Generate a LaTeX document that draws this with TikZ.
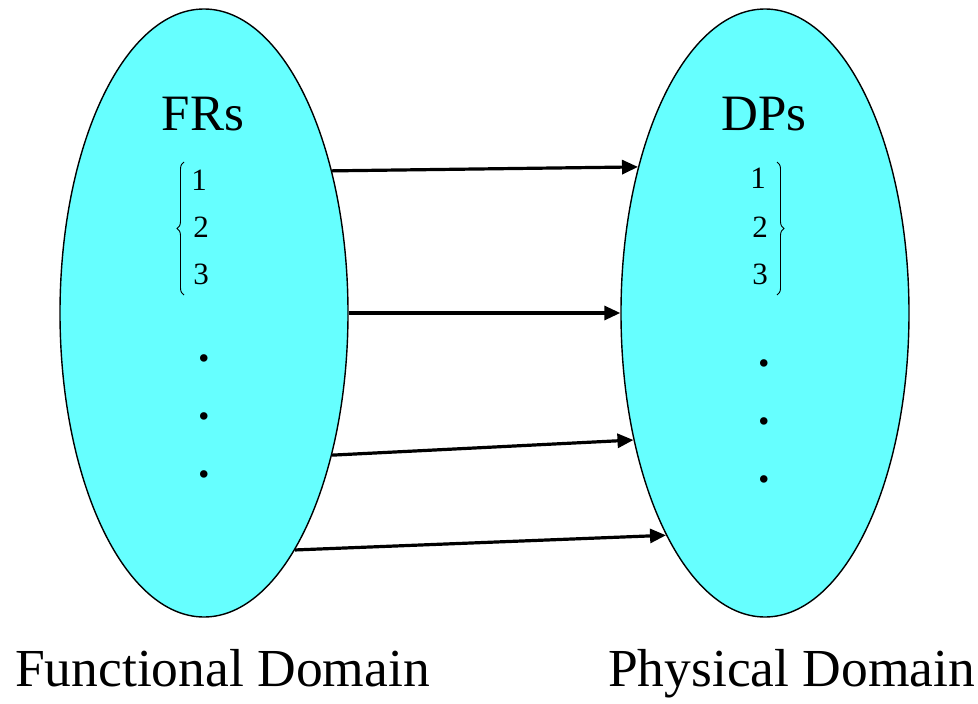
\documentclass[tikz,border=0pt]{standalone}
\usepackage{fontspec}
\IfFontExistsTF{LiberationSerif-Regular.ttf}
	{\setmainfont{LiberationSerif-Regular.ttf}[BoldFont=LiberationSerif-Bold.ttf]}
	{\setmainfont{Liberation Serif}}
\usetikzlibrary{shapes.geometric,arrows.meta,decorations.pathreplacing}
\definecolor{domaincyan}{RGB}{102,255,255}
\begin{document}
\begin{tikzpicture}[x=1pt,y=-1pt,
		domainshape/.style={ellipse,draw,line width=1.4pt,fill=domaincyan,minimum width=288pt,minimum height=608pt,inner sep=0pt},
		link/.style={line width=3.2pt,-{Triangle[length=16pt,width=14pt]}},
		heading/.style={inner sep=0pt,anchor=base,font=\rmfamily\fontsize{51}{60}\selectfont},
		num/.style={inner sep=0pt,font=\rmfamily\fontsize{31}{36}\selectfont},
		dotmark/.style={inner sep=0pt,font=\rmfamily\bfseries\fontsize{46}{50}\selectfont},
		domainname/.style={inner sep=0pt,anchor=base west,font=\rmfamily\fontsize{53.5}{60}\selectfont},
		bracket/.style={decorate,decoration={brace,amplitude=7pt},line width=0.9pt}]
	\useasboundingbox (0,0) rectangle (978,704);
	% the two domains
	\node[domainshape] (fr) at (204,313) {};
	\node[domainshape] (dp) at (765,313) {};
	\node[heading] (frs) at (203,130) {FRs};
	\node[heading] (dps) at (764,130) {DPs};
	% numbered items
	\node[num] (fr1) at (199,180) {1};
	\node[num] (fr2) at (201,227) {2};
	\node[num] (fr3) at (201,274) {3};
	\node[num] (dp1) at (758,178) {1};
	\node[num] (dp2) at (760,227) {2};
	\node[num] (dp3) at (760,274) {3};
	\draw[bracket] (184,295) -- (184,162);
	\draw[bracket] (777,162) -- (777,295);
	% dots
	\node[dotmark] (frd1) at (204,358) {.};
	\node[dotmark] (frd2) at (204,416) {.};
	\node[dotmark] (frd3) at (204,474) {.};
	\node[dotmark] (dpd1) at (764,363) {.};
	\node[dotmark] (dpd2) at (764,421) {.};
	\node[dotmark] (dpd3) at (764,479) {.};
	% mappings
	\draw[link] (fr.48.6) -- (dp.131.8);
	\draw[link] (fr.east) -- (dp.west);
	\draw[link] (fr.-48.6) -- (dp.224.6);
	\draw[link] (fr.-69.7) -- (dp.246.7);
	\node[domainname] (fdom) at (15,686) {Functional Domain};
	\node[domainname] (pdom) at (608,686) {Physical Domain};
\end{tikzpicture}
\end{document}
